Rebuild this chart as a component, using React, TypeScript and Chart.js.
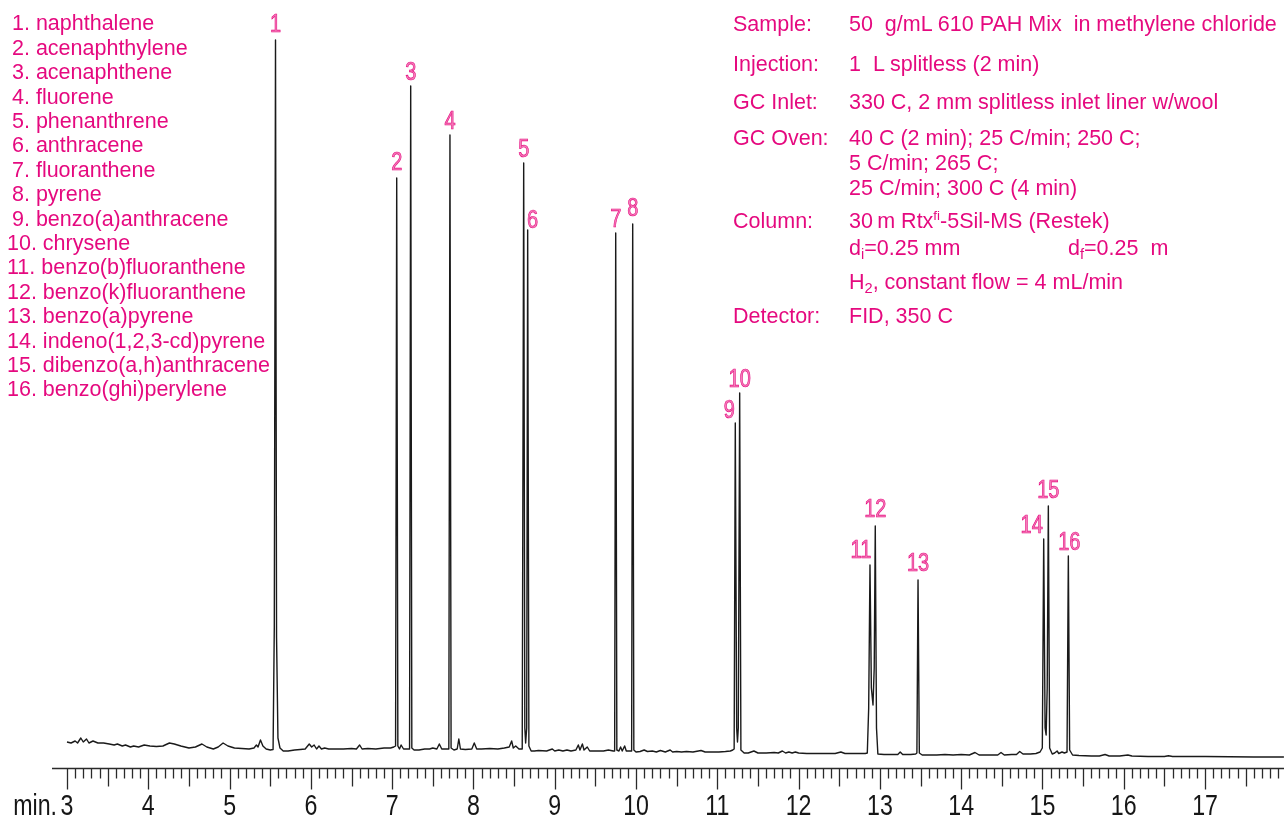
import React, { useEffect, useRef } from "react";
import { Chart, registerables } from "chart.js";

Chart.register(...registerables);

const PINK = "#e5097f";
const TRACE_COLOR = "#1a1a1a";
const SANS = '"Liberation Sans", Arial, Helvetica, sans-serif';

// ---- data ----
const compounds = [
  "naphthalene",
  "acenaphthylene",
  "acenaphthene",
  "fluorene",
  "phenanthrene",
  "anthracene",
  "fluoranthene",
  "pyrene",
  "benzo(a)anthracene",
  "chrysene",
  "benzo(b)fluoranthene",
  "benzo(k)fluoranthene",
  "benzo(a)pyrene",
  "indeno(1,2,3-cd)pyrene",
  "dibenzo(a,h)anthracene",
  "benzo(ghi)perylene",
];

const peakNumbers = [1, 2, 3, 4, 5, 6, 7, 8, 9, 10, 11, 12, 13, 14, 15, 16];
const peakTimes = [5.565, 7.056, 7.228, 7.711, 8.618, 8.667, 9.75, 9.959, 11.221, 11.275, 12.878, 12.943, 13.469, 15.015, 15.072, 15.318];
const peakHeights = [728, 590, 682, 633, 605, 538, 535, 544, 345, 375, 203, 242, 188, 229, 262, 212];

const tickLabels = ["3", "4", "5", "6", "7", "8", "9", "10", "11", "12", "13", "14", "15", "16", "17"];
const axisUnit = "min.";

// chromatogram trace: [retention time (min), detector signal]
const trace: [number, number][] = [
  [3.0, 26], [3.05, 25], [3.1, 27], [3.13, 25], [3.17, 30], [3.2, 26], [3.24, 29], [3.27, 25], [3.32, 27],
  [3.38, 25], [3.45, 25], [3.52, 24], [3.58, 23], [3.62, 24], [3.68, 22], [3.72, 23], [3.78, 21], [3.82, 22],
  [3.88, 21], [3.95, 23], [4.02, 22], [4.1, 21.5], [4.18, 22], [4.26, 25], [4.32, 24], [4.4, 22], [4.5, 20],
  [4.58, 21], [4.66, 24], [4.72, 21], [4.8, 19], [4.86, 21], [4.92, 25], [4.98, 22], [5.06, 20], [5.15, 19.5],
  [5.24, 19], [5.3, 20], [5.33, 23], [5.35, 21], [5.38, 28], [5.41, 22], [5.45, 19], [5.5, 18], [5.535, 18.5],
  [5.55, 140], [5.565, 728], [5.578, 130], [5.595, 30], [5.62, 20], [5.66, 17],
  [5.72, 17], [5.8, 18], [5.87, 18.5], [5.93, 19], [5.98, 24], [6.01, 21], [6.04, 23], [6.07, 19], [6.1, 22],
  [6.13, 19], [6.17, 20], [6.22, 19], [6.3, 19], [6.4, 19], [6.5, 19.5], [6.56, 19], [6.6, 23], [6.63, 19],
  [6.7, 19.5], [6.8, 19], [6.9, 20], [6.98, 20], [7.02, 21],
  [7.042, 22], [7.056, 590], [7.07, 22], [7.09, 19], [7.11, 23], [7.14, 19], [7.18, 19],
  [7.214, 19], [7.228, 682], [7.242, 20], [7.27, 18],
  [7.33, 18], [7.4, 19], [7.46, 19], [7.5, 20], [7.55, 19], [7.58, 24], [7.61, 19], [7.66, 19],
  [7.697, 19], [7.711, 633], [7.725, 20], [7.76, 18], [7.8, 19], [7.82, 29], [7.84, 19],
  [7.9, 18.5], [7.98, 19], [8.01, 25], [8.04, 19], [8.1, 19], [8.2, 19.5], [8.3, 19], [8.38, 20], [8.44, 21],
  [8.47, 27], [8.49, 20], [8.52, 22], [8.56, 19], [8.6, 19],
  [8.618, 605], [8.632, 40], [8.642, 25], [8.655, 40], [8.667, 538], [8.682, 22], [8.71, 17],
  [8.75, 17], [8.8, 17.5], [8.9, 17], [8.97, 19], [9.0, 17], [9.05, 18], [9.1, 17], [9.15, 18], [9.2, 17],
  [9.26, 18], [9.29, 23], [9.31, 18], [9.34, 24], [9.36, 18], [9.4, 21], [9.43, 17], [9.5, 17], [9.6, 17],
  [9.66, 18], [9.72, 17],
  [9.737, 17], [9.75, 535], [9.764, 18], [9.79, 17], [9.81, 21], [9.83, 17],
  [9.86, 22], [9.88, 17], [9.92, 17],
  [9.946, 17], [9.959, 544], [9.973, 18], [10.0, 16],
  [10.05, 16.5], [10.1, 18], [10.14, 16.5], [10.2, 17], [10.25, 16], [10.3, 17.5], [10.36, 16], [10.42, 18],
  [10.45, 16], [10.5, 16.5], [10.56, 16], [10.62, 16.5], [10.7, 16], [10.8, 17.5], [10.85, 16], [10.95, 16],
  [11.02, 16], [11.1, 16.5], [11.16, 17], [11.19, 18],
  [11.207, 19], [11.221, 345], [11.238, 40], [11.248, 26], [11.258, 40], [11.275, 375], [11.29, 18], [11.33, 15],
  [11.38, 15], [11.45, 17], [11.5, 15], [11.6, 15], [11.7, 15.5], [11.75, 15], [11.8, 17], [11.84, 15],
  [11.88, 16], [11.92, 15], [11.96, 16], [12.0, 15], [12.1, 14.5], [12.3, 14.5], [12.45, 14.5], [12.52, 16],
  [12.57, 14.5], [12.7, 14.5], [12.82, 14.5],
  [12.845, 15], [12.862, 60], [12.878, 203], [12.895, 80], [12.915, 63], [12.93, 100], [12.943, 242],
  [12.958, 40], [12.975, 14],
  [13.05, 13.5], [13.15, 13.5], [13.22, 13.5], [13.25, 16], [13.28, 13.5], [13.38, 13.5], [13.44, 14],
  [13.455, 15], [13.469, 188], [13.485, 15], [13.52, 13],
  [13.6, 13], [13.7, 13], [13.8, 13.5], [13.9, 13], [14.0, 13.5], [14.1, 13], [14.17, 15.5], [14.22, 13],
  [14.35, 13], [14.45, 13], [14.49, 15.5], [14.53, 13], [14.62, 13.5], [14.68, 13.5], [14.72, 16.5],
  [14.76, 14], [14.85, 14], [14.92, 14.5], [14.97, 16],
  [14.998, 20], [15.015, 229], [15.032, 40], [15.045, 33], [15.058, 80], [15.072, 262], [15.088, 20], [15.12, 14],
  [15.15, 15], [15.18, 17], [15.2, 14.5], [15.24, 16], [15.27, 15],
  [15.302, 16], [15.318, 212], [15.334, 18], [15.37, 13],
  [15.45, 12.5], [15.6, 12], [15.7, 12], [15.77, 13.5], [15.82, 12], [15.95, 12], [16.05, 13], [16.1, 12],
  [16.3, 11.5], [16.5, 11.5], [16.55, 12.3], [16.6, 11.5], [16.8, 11.5], [17.0, 11.5], [17.3, 11.2],
  [17.6, 11], [17.97, 11],
];

// ---- layout (not data) ----
const X_MIN = 2.8155;
const X_MAX = 17.971;
const Y_MAX = 748;
const NARROW_SCALE = 0.8;
const labelDx = [0, 0, 0, 0, 0, 5, 0, 0, -6, 0, -9, 0, 0, -12, 0, 1];
const labelGap = [8, 8, 6, 6, 6, 2, 6, 8, 5, 6, 7, 9, 9, 6, 8, 6];

function narrowText(ctx: CanvasRenderingContext2D, text: string, x: number, y: number, align: CanvasTextAlign, stroke = false) {
  ctx.save();
  ctx.translate(x, y);
  ctx.scale(NARROW_SCALE, 1);
  ctx.textAlign = align;
  ctx.fillText(text, 0, 0);
  if (stroke) ctx.strokeText(text, 0, 0);
  ctx.restore();
}

const axisPlugin = {
  id: "chromAxis",
  afterDraw(chart: any) {
    const { ctx, chartArea } = chart;
    const xs = chart.scales.x;
    const y0 = Math.round(chartArea.bottom) + 0.5;
    ctx.save();
    ctx.strokeStyle = "#2a2a2a";
    ctx.lineWidth = 1.3;
    ctx.beginPath();
    ctx.moveTo(chartArea.left, y0);
    ctx.lineTo(chartArea.right, y0);
    ctx.stroke();
    const first = Number(tickLabels[0]) * 10;
    for (let i = first; i < X_MAX * 10; i++) {
      const px = Math.round(xs.getPixelForValue(i / 10)) + 0.5;
      if (px > chartArea.right) break;
      const len = i % 10 === 0 ? 21 : i % 5 === 0 ? 18 : 10;
      ctx.beginPath();
      ctx.moveTo(px, y0);
      ctx.lineTo(px, y0 + len);
      ctx.stroke();
    }
    ctx.fillStyle = "#161616";
    ctx.font = `29px ${SANS}`;
    ctx.textBaseline = "alphabetic";
    tickLabels.forEach((l) => {
      narrowText(ctx, l, xs.getPixelForValue(Number(l)), 815, "center");
    });
    narrowText(ctx, axisUnit, xs.getPixelForValue(Number(tickLabels[0])) - 10, 815, "right");
    ctx.restore();
  },
};

const peakLabelPlugin = {
  id: "peakLabels",
  afterDatasetsDraw(chart: any) {
    const { ctx } = chart;
    const xs = chart.scales.x;
    const ys = chart.scales.y;
    ctx.save();
    ctx.font = `25px ${SANS}`;
    ctx.textBaseline = "alphabetic";
    ctx.fillStyle = "#f57fba";
    ctx.strokeStyle = PINK;
    ctx.lineWidth = 0.7;
    peakNumbers.forEach((n, i) => {
      const x = xs.getPixelForValue(peakTimes[i]) + labelDx[i];
      const y = ys.getPixelForValue(peakHeights[i]) - labelGap[i];
      narrowText(ctx, String(n), x, y, "center", true);
    });
    ctx.restore();
  },
};

const FS = 21.5;
const baseTop = (baseline: number) => baseline - 0.8465 * FS;

const textStyle: React.CSSProperties = {
  position: "absolute",
  fontFamily: SANS,
  fontSize: FS,
  lineHeight: 1,
  color: PINK,
  whiteSpace: "pre",
  margin: 0,
};

const subStyle: React.CSSProperties = { fontSize: "0.68em", position: "relative", top: "0.32em", verticalAlign: "baseline" };
const supStyle: React.CSSProperties = { fontSize: "0.62em", position: "relative", top: "-0.55em", verticalAlign: "baseline" };

const T = ({ x, b, children }: { x: number; b: number; children: React.ReactNode }) => (
  <div style={{ ...textStyle, left: x, top: baseTop(b) }}>{children}</div>
);

export default function App() {
  const canvasRef = useRef<HTMLCanvasElement | null>(null);

  useEffect(() => {
    const canvas = canvasRef.current;
    if (!canvas) return;
    const chart = new Chart(canvas, {
      type: "line",
      data: {
        datasets: [
          {
            data: trace.map(([x, y]) => ({ x, y })),
            borderColor: TRACE_COLOR,
            borderWidth: 1.4,
            pointRadius: 0,
            tension: 0,
            fill: false,
            borderJoinStyle: "round",
          } as any,
        ],
      },
      options: {
        animation: false,
        responsive: false,
        devicePixelRatio: 1,
        parsing: false as any,
        layout: { padding: { left: 52, right: 0, top: 20, bottom: 48 } },
        scales: {
          x: { type: "linear", min: X_MIN, max: X_MAX, display: false },
          y: { type: "linear", min: 0, max: Y_MAX, display: false },
        },
        plugins: { legend: { display: false }, tooltip: { enabled: false } },
      },
      plugins: [peakLabelPlugin, axisPlugin],
    });
    return () => chart.destroy();
  }, []);

  const legendBase = 31.5;
  const legendStep = 24.4;

  return (
    <div style={{ position: "absolute", left: 0, top: 0, width: 1284, height: 816, background: "#fff", overflow: "hidden" }}>
      <canvas ref={canvasRef} width={1284} height={816} style={{ position: "absolute", left: 0, top: 0, width: 1284, height: 816 }} />
      {compounds.map((c, i) => (
        <T key={c} x={i < 9 ? 12 : 7} b={legendBase + i * legendStep}>
          {`${i + 1}. ${c}`}
        </T>
      ))}
      <T x={733} b={32}>Sample:</T>
      <T x={849} b={32}>{"50  g/mL 610 PAH Mix  in methylene chloride"}</T>
      <T x={733} b={72}>Injection:</T>
      <T x={849} b={72}>{"1  L splitless (2 min)"}</T>
      <T x={733} b={110}>GC Inlet:</T>
      <T x={849} b={110}>{"330 C, 2 mm splitless inlet liner w/wool"}</T>
      <T x={733} b={146}>GC Oven:</T>
      <T x={849} b={146}>{"40 C (2 min); 25 C/min; 250 C;"}</T>
      <T x={849} b={171}>{"5 C/min; 265 C;"}</T>
      <T x={849} b={196}>{"25 C/min; 300 C (4 min)"}</T>
      <T x={733} b={229}>Column:</T>
      <T x={849} b={229}>
        {"30\u2009m Rtx"}
        <span style={supStyle}>fi</span>
        {"-5Sil-MS (Restek)"}
      </T>
      <T x={849} b={256}>
        {"d"}
        <span style={subStyle}>i</span>
        {"=0.25 mm"}
      </T>
      <T x={1068} b={256}>
        {"d"}
        <span style={subStyle}>f</span>
        {"=0.25  m"}
      </T>
      <T x={849} b={290}>
        {"H"}
        <span style={subStyle}>2</span>
        {", constant flow = 4 mL/min"}
      </T>
      <T x={733} b={324}>Detector:</T>
      <T x={849} b={324}>{"FID, 350 C"}</T>
    </div>
  );
}
